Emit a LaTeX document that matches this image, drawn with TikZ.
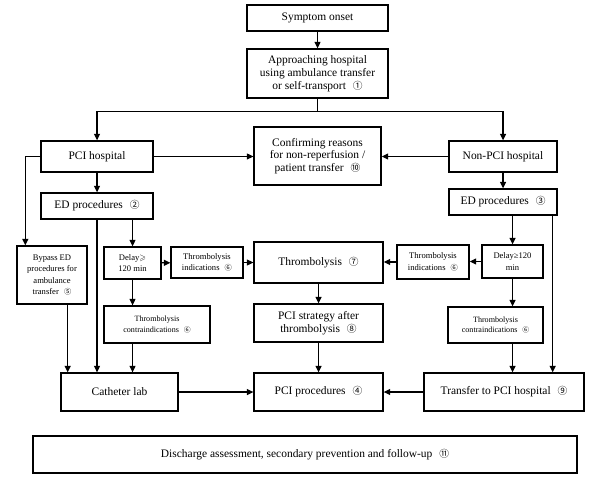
\documentclass[tikz,border=0pt]{standalone}
\usepackage{amssymb}
\usepackage{fontspec}
\setmainfont{Liberation Serif}
\newfontfamily\cfont{Noto Sans CJK SC}
\usetikzlibrary{arrows.meta}
\newcommand\cnum[1]{\hspace{0.6em}{\cfont\scalebox{0.85}{#1}}}
\tikzset{
  bx/.style={draw, line width=1.3bp, align=center, inner sep=0pt,
    font=\fontsize{11.5}{12.8}\selectfont},
  sbx/.style={bx, font=\fontsize{8.6}{11.5}\selectfont},
  tbx/.style={bx, font=\fontsize{8.1}{11}\selectfont},
  arr/.style={line width=1.3bp, -{Triangle[length=6.5bp,width=6bp]}},
  ln/.style={line width=1.3bp}
}
\begin{document}
\begin{tikzpicture}[x=1bp,y=-1bp]
\fill[white] (0,0) rectangle (602,478);
\useasboundingbox (0,0) rectangle (602,478);

\node[bx, minimum width=141bp, minimum height=26bp] (sym) at (317.5,18) {Symptom onset};
\node[bx, minimum width=141bp, minimum height=49bp] (app) at (317.5,73.5) {Approaching hospital\\using ambulance transfer\\or self-transport\cnum{①}};
\node[bx, minimum width=127bp, minimum height=58bp] (conf) at (317.5,156) {Confirming reasons\\for non-reperfusion /\\patient transfer\cnum{⑩}};
\node[bx, minimum width=112bp, minimum height=31bp] (pcih) at (97,156.5) {PCI hospital};
\node[bx, minimum width=108bp, minimum height=31bp] (npci) at (503,156.5) {Non-PCI hospital};
\node[bx, minimum width=112bp, minimum height=26bp] (ed2) at (97,206) {ED procedures\cnum{②}};
\node[bx, minimum width=108bp, minimum height=26bp] (ed3) at (503,202) {ED procedures\cnum{③}};
\node[sbx, minimum width=70bp, minimum height=58bp] (byp) at (52,275) {Bypass ED\\procedures for\\ambulance\\transfer\cnum{⑤}};
\node[sbx, minimum width=57bp, minimum height=32bp] (dl) at (132.5,263) {Delay$\geqslant$\\120 min};
\node[sbx, minimum width=72bp, minimum height=31bp] (til) at (207,262.5) {Thrombolysis\\indications\cnum{⑥}};
\node[bx, minimum width=129bp, minimum height=41bp] (thr) at (318.5,262.5) {Thrombolysis\cnum{⑦}};
\node[sbx, minimum width=72bp, minimum height=34bp] (tir) at (433,262) {Thrombolysis\\indications\cnum{⑥}};
\node[sbx, minimum width=61bp, minimum height=33bp] (dr) at (512.5,261.5) {Delay≥120\\min};
\node[tbx, minimum width=106bp, minimum height=37bp] (tcl) at (157,324.5) {Thrombolysis\\contraindications\cnum{⑥}};
\node[bx, minimum width=129bp, minimum height=38bp] (pst) at (318.5,323) {PCI strategy after\\thrombolysis\cnum{⑧}};
\node[tbx, minimum width=95bp, minimum height=36bp] (tcr) at (495.5,325) {Thrombolysis\\contraindications\cnum{⑥}};
\node[bx, minimum width=117bp, minimum height=38bp] (cath) at (119.5,392) {Catheter lab};
\node[bx, minimum width=129bp, minimum height=38bp] (pcip) at (318.5,392) {PCI procedures\cnum{④}};
\node[bx, minimum width=160bp, minimum height=38bp] (trn) at (504,392) {Transfer to PCI hospital\cnum{⑨}};
\node[bx, minimum width=544bp, minimum height=37bp] (dis) at (305,454.5) {Discharge assessment, secondary prevention and follow-up\cnum{⑪}};

% top
\draw[arr] (sym) -- (app);
\draw[ln] (app.south) -- ++(0,13) coordinate (br);
\draw[arr] (br) -| (pcih.north);
\draw[arr] (br) -| (npci.north);
\draw[arr] (pcih) -- (pcih -| conf.west);
\draw[arr] (npci) -- (npci -| conf.east);

% left side
\draw[arr] (pcih) -- (ed2);
\draw[arr] (pcih.west) -| ([xshift=9bp]byp.north west);
\draw[arr] (ed2.south) -- (ed2.south |- cath.north);
\draw[arr] ([xshift=-20bp]byp.south east) -- ([xshift=-20bp]byp.south east |- cath.north);
\draw[arr] (ed2.south -| dl.north) -- (dl.north);
\draw[arr] (dl) -- (til);
\draw[arr] (til) -- (til -| thr.west);
\draw[arr] (dl.south) -- (dl.south |- tcl.north);
\draw[arr] (tcl.south -| dl.south) -- (dl.south |- cath.north);

% middle
\draw[arr] (thr) -- (pst);
\draw[arr] (pst) -- (pcip);
\draw[arr] (cath) -- (pcip);
\draw[arr] (trn) -- (pcip);

% right side
\draw[arr] (npci) -- (ed3);
\draw[arr] (ed3.south -| dr.north) -- (dr.north);
\draw[arr] (dr) -- (dr -| tir.east);
\draw[arr] (tir) -- (tir -| thr.east);
\draw[arr] (dr.south) -- (dr.south |- tcr.north);
\draw[arr] (tcr.south -| dr.south) -- (dr.south |- trn.north);
\draw[arr] ([xshift=-5bp]ed3.south east) -- ([xshift=-5bp]ed3.south east |- trn.north);
\end{tikzpicture}
\end{document}
